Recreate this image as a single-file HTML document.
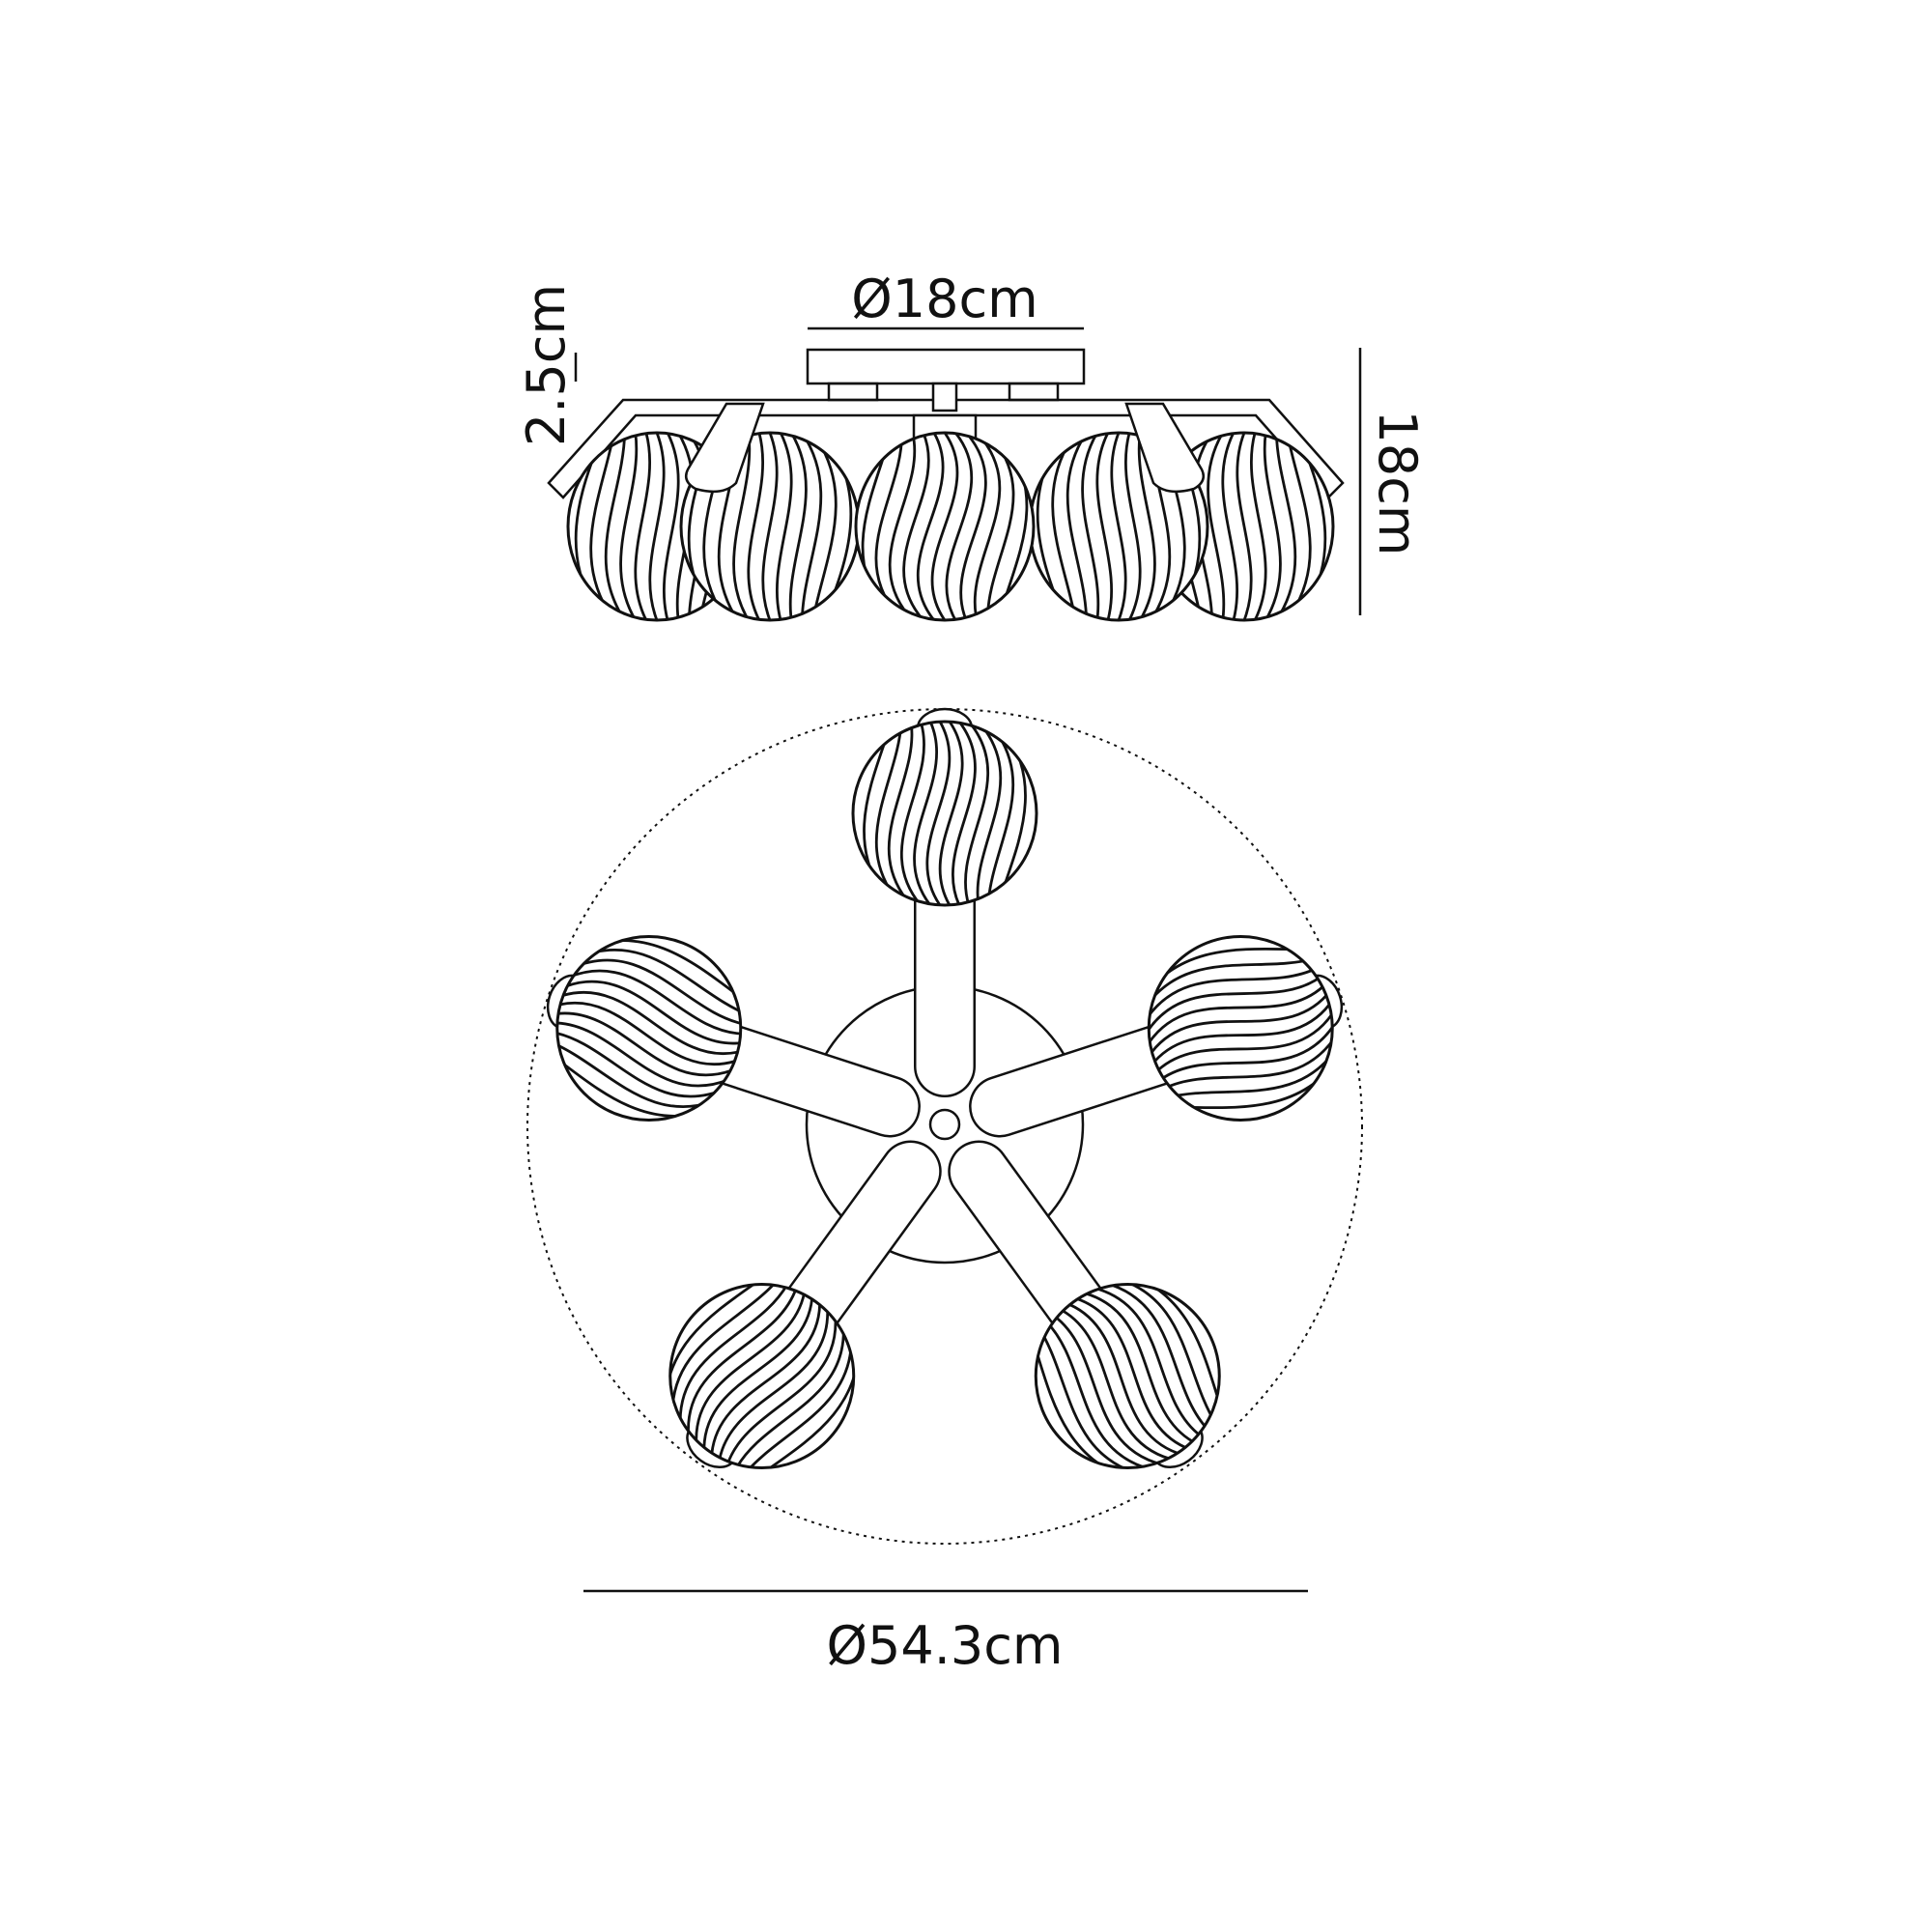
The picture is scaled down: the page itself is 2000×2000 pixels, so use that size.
<!DOCTYPE html>
<html><head><meta charset="utf-8"><style>
html,body{margin:0;padding:0;background:#fff}
svg{display:block}
text{font-family:"DejaVu Sans","Liberation Sans",sans-serif;fill:#111}
</style></head><body>
<svg id="s" width="2000" height="2000" viewBox="0 0 2000 2000" xmlns="http://www.w3.org/2000/svg">
<g fill="none" stroke="#111" stroke-width="2.5">
 <line x1="836" y1="340" x2="1122" y2="340"/>
 <rect x="836" y="362" width="286" height="35" fill="#fff"/>
 <line x1="1408" y1="360" x2="1408" y2="637"/>
 <line x1="596" y1="365" x2="596" y2="395"/>
 <path d="M645 414 L1314 414 L1390 500 L1375 515 L1300 430 L658 430 L583 515 L568 500 Z" fill="#fff"/>
 <rect x="858" y="397" width="50" height="17"/><rect x="1045" y="397" width="50" height="17"/>
 <rect x="966" y="397" width="24" height="28" fill="#fff"/>
 <rect x="946" y="430" width="64" height="25" fill="#fff"/>
</g>
<g id="side"></g>
<g fill="none" stroke="#111" stroke-width="2.5">
 <path d="M752 418 L790 418 L762 500 Q748 514 720 506 Q706 498 712 486 Z" fill="#fff"/>
 <path d="M1204 418 L1166 418 L1194 500 Q1208 514 1236 506 Q1250 498 1244 486 Z" fill="#fff"/>
</g>
<text x="978" y="328" font-size="54" text-anchor="middle">Ø18cm</text>
<text transform="translate(1428,500) rotate(90)" font-size="54" text-anchor="middle">18cm</text>
<text transform="translate(584,378) rotate(-90)" font-size="54" text-anchor="middle">2.5cm</text>
<circle cx="978" cy="1166" r="432" fill="none" stroke="#111" stroke-width="2" stroke-dasharray="3,5"/>
<circle cx="978" cy="1164" r="143" fill="#fff" stroke="#111" stroke-width="2.5"/>
<g id="plan"></g>
<circle cx="978" cy="1164" r="15" fill="#fff" stroke="#111" stroke-width="2.5"/>
<line x1="604" y1="1647" x2="1354" y2="1647" stroke="#111" stroke-width="2.5"/>
<text x="978" y="1722" font-size="54" text-anchor="middle">Ø54.3cm</text>
</svg>
<script>
var NS="http://www.w3.org/2000/svg";
function el(p,t,a){var e=document.createElementNS(NS,t);for(var k in a)e.setAttribute(k,a[k]);p.appendChild(e);return e;}
var id=0;
function globe(p,cx,cy,rx,ry,rot,amp,n){
 id++;var cp=el(document.querySelector('svg'),'clipPath',{id:'c'+id});
 el(cp,'ellipse',{cx:0,cy:0,rx:rx,ry:ry});
 var g=el(p,'g',{transform:'translate('+cx+','+cy+')'});
 el(g,'ellipse',{cx:0,cy:0,rx:rx,ry:ry,fill:'#fff',stroke:'#111','stroke-width':3});
 var gi=el(g,'g',{'clip-path':'url(#c'+id+')'});
 var gr=el(gi,'g',{transform:'rotate('+rot+')'});
 var R=Math.max(rx,ry);
 for(var i=0;i<n;i++){
  var t=-1+2*(i+0.5)/n;var x=t*R*1.05;
  var w=Math.sqrt(Math.max(0,1-t*t));
  var a=amp*w;
  el(gr,'path',{d:'M'+(x*0.6)+','+(-R)+' C'+(x+a)+','+(-R/3)+' '+(x-a)+','+(R/3)+' '+(x*0.6)+','+R,fill:'none',stroke:'#111','stroke-width':2.8});
 }
}
var side=document.getElementById('side');
globe(side,680,545,92,97,0,25,11);
globe(side,1288,545,92,97,0,-25,11);
globe(side,797,545,92,97,0,25,11);
globe(side,1158,545,92,97,0,-25,11);
globe(side,978,545,92,97,0,45,11);
var plan=document.getElementById('plan');
var cx=978,cy=1164,D=322;
var angs=[-90,-18,198,54,126];
angs.forEach(function(a){
 var r=a*Math.PI/180;
 var x1=cx+Math.cos(r)*60,y1=cy+Math.sin(r)*60,x2=cx+Math.cos(r)*(D-70),y2=cy+Math.sin(r)*(D-70);
 el(plan,'line',{x1:x1,y1:y1,x2:x2,y2:y2,stroke:'#111','stroke-width':64,'stroke-linecap':'round'});
 el(plan,'line',{x1:x1,y1:y1,x2:x2,y2:y2,stroke:'#fff','stroke-width':59,'stroke-linecap':'round'});
 var ex=cx+Math.cos(r)*(D+88),ey=cy+Math.sin(r)*(D+88);
 el(plan,'ellipse',{cx:ex,cy:ey,rx:28,ry:20,fill:'#fff',stroke:'#111','stroke-width':2.5,transform:'rotate('+(a+90)+' '+ex+' '+ey+')'});
});
angs.forEach(function(a,i){
 var r=a*Math.PI/180;
 globe(plan,cx+Math.cos(r)*D,cy+Math.sin(r)*D,95,95,a+90,40,12);
});
</script>
</body></html>
